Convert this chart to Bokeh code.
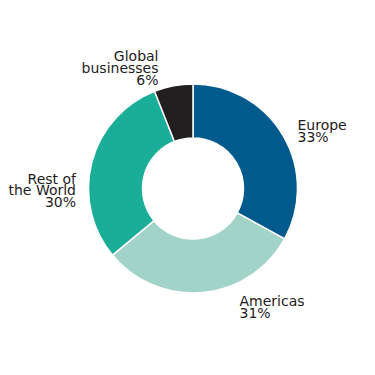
from bokeh.plotting import figure
from bokeh.models import ColumnDataSource, Range1d
from bokeh.core.properties import value
from bokeh.embed import file_html
from bokeh.resources import INLINE
import math

# Data
categories = ["Europe", "Americas", "Rest of\nthe World", "Global\nbusinesses"]
shares = [33, 31, 30, 6]
colors = ["#005a8e", "#a1d3c8", "#1aae99", "#231f20"]

W = H = 375
CX, CY = 192.5, 375 - 188
R_OUT, R_IN = 104.5, 50.5

# label anchors (pixel coords from top), alignment, line height
label_pos = [(297, 124.5, "left"), (239, 300.5, "left"), (75.5, 178, "right"), (158, 55.5, "right")]
LH = 11.8

p = figure(width=W, height=H, output_backend="svg", toolbar_location=None,
           x_range=Range1d(0, W), y_range=Range1d(0, H), min_border=0)
p.axis.visible = False
p.grid.visible = False
p.outline_line_color = None
p.background_fill_color = "white"
p.border_fill_color = "white"

total = sum(shares)
starts, ends = [], []
a = math.pi / 2
for s in shares:
    starts.append(a)
    a -= s / total * 2 * math.pi
    ends.append(a)

src = ColumnDataSource(dict(start=starts, end=ends, color=colors))
p.annular_wedge(x=CX, y=CY, inner_radius=R_IN, outer_radius=R_OUT,
                start_angle="start", end_angle="end", direction="clock",
                fill_color="color", line_color="white", line_width=1.5, source=src)

for cat, sh, (lx, ly, al) in zip(categories, shares, label_pos):
    lines = cat.split("\n") + [f"{sh}%"]
    xs = [lx] * len(lines)
    ys = [H - (ly + i * LH) for i in range(len(lines))]
    p.text(x=xs, y=ys, text=lines, text_font=value("DejaVu Sans"),
           text_font_size="14px", text_color="#1e1b1c", text_align=al,
           text_baseline="alphabetic", text_font_style="normal",
           text_line_height=1.0)

open("out.html", "w").write(file_html(p, INLINE))
